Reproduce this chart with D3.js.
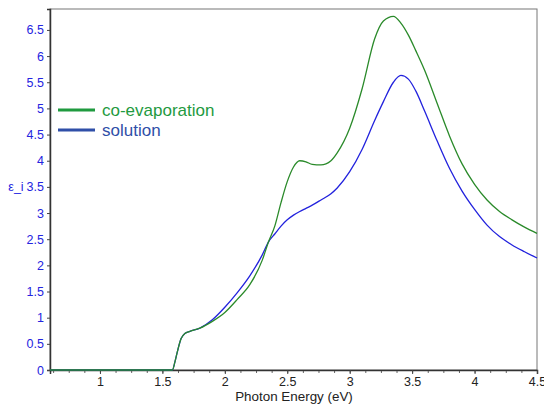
<!DOCTYPE html>
<html>
<head>
<meta charset="utf-8">
<script src="https://cdn.jsdelivr.net/npm/d3@7"></script>
<style>
  body { margin: 0; background: #fff; }
  svg { display: block; font-family: "Liberation Sans", Arial, sans-serif; }
</style>
</head>
<body>
<svg id="chart" width="544" height="408"></svg>
<script>
// photon energy grid (eV)
var energy = [0.6, 1.58, 1.6, 1.62, 1.65, 1.68, 1.72, 1.8, 1.9, 2.0, 2.1, 2.2, 2.3, 2.35, 2.4, 2.45, 2.5, 2.55, 2.6, 2.65, 2.7, 2.77, 2.85, 2.9, 3.0, 3.1, 3.2, 3.27, 3.35, 3.41, 3.47, 3.53, 3.6, 3.7, 3.8, 3.9, 4.0, 4.1, 4.2, 4.3, 4.4, 4.5];

// eps_i of co-evaporated film
var coEvap = [0, 0, 0.15, 0.35, 0.6, 0.70, 0.74, 0.80, 0.93, 1.1, 1.35, 1.63, 2.1, 2.45, 2.75, 3.2, 3.6, 3.88, 4.0, 3.98, 3.93, 3.92, 4.0, 4.15, 4.62, 5.38, 6.33, 6.67, 6.76, 6.63, 6.4, 6.1, 5.73, 5.1, 4.47, 3.94, 3.55, 3.25, 3.03, 2.87, 2.73, 2.61];

// eps_i of solution film
var solution = [0, 0, 0.15, 0.35, 0.6, 0.70, 0.74, 0.80, 0.96, 1.2, 1.48, 1.8, 2.2, 2.45, 2.6, 2.75, 2.87, 2.96, 3.03, 3.09, 3.15, 3.25, 3.37, 3.48, 3.79, 4.22, 4.77, 5.13, 5.5, 5.63, 5.56, 5.33, 4.95, 4.38, 3.85, 3.42, 3.07, 2.77, 2.55, 2.39, 2.26, 2.14];

var xTicks = [1, 1.5, 2, 2.5, 3, 3.5, 4, 4.5];
var yTicks = [0, 0.5, 1, 1.5, 2, 2.5, 3, 3.5, 4, 4.5, 5, 5.5, 6, 6.5];

var seriesNames = ["co-evaporation", "solution"];

var svg = d3.select("#chart");
var plotLeft = 50, plotRight = 537, plotTop = 9, plotBottom = 370;

// scales
var x = d3.scaleLinear().domain([0.6, 4.5]).range([plotLeft, plotRight]);
var y = d3.scaleLinear().domain([0, 6.9]).range([plotBottom, plotTop]);

// frame (top and right in grey)
svg.append("rect")
    .attr("x", plotLeft).attr("y", plotTop)
    .attr("width", plotRight - plotLeft).attr("height", plotBottom - plotTop)
    .attr("fill", "none")
    .attr("stroke", "#777")
    .attr("stroke-width", 1);

// x axis with minor ticks
var xMinor = d3.range(0.625, 4.5001, 0.125);
svg.append("g")
    .attr("transform", "translate(0," + plotBottom + ")")
    .call(d3.axisBottom(x).tickValues(xMinor).tickSize(3).tickFormat(""))
    .call(g => g.select(".domain").remove())
    .selectAll("line").attr("stroke", "#666");

var gx = svg.append("g")
    .attr("transform", "translate(0," + plotBottom + ")")
    .call(d3.axisBottom(x).tickValues(xTicks).tickSize(4).tickPadding(3).tickFormat(d3.format("")));
gx.select(".domain").attr("stroke", "#333").attr("stroke-width", 1.5);
gx.selectAll("line").attr("stroke", "#444");
gx.selectAll("text").attr("font-size", 12.5).attr("fill", "#222")
    .attr("font-family", "Liberation Sans, Arial, sans-serif");

// y axis
var gy = svg.append("g")
    .attr("transform", "translate(" + plotLeft + ",0)")
    .call(d3.axisLeft(y).tickValues(yTicks).tickSize(3).tickPadding(3).tickFormat(d3.format("")));
gy.select(".domain").attr("stroke", "#333").attr("stroke-width", 1.5);
gy.selectAll("line").attr("stroke", "#444");
gy.selectAll("text").attr("font-size", 12.5).attr("fill", "#2424e0")
    .attr("font-family", "Liberation Sans, Arial, sans-serif");

// axis titles
svg.append("text")
    .attr("x", 294).attr("y", 401)
    .attr("text-anchor", "middle")
    .attr("font-size", 13.4)
    .attr("fill", "#222")
    .text("Photon Energy (eV)");

svg.append("text")
    .attr("x", 16).attr("y", 191)
    .attr("text-anchor", "middle")
    .attr("font-size", 12.5)
    .attr("fill", "#2424e0")
    .text("ε_i");

// lines
var line = d3.line()
    .x(function(d, i) { return x(energy[i]); })
    .y(function(d) { return y(d); })
    .curve(d3.curveMonotoneX);

svg.append("path")
    .datum(solution)
    .attr("d", line)
    .attr("fill", "none")
    .attr("stroke", "#2222dd")
    .attr("stroke-width", 1.3);

svg.append("path")
    .datum(coEvap)
    .attr("d", line)
    .attr("fill", "none")
    .attr("stroke", "#2a8a2a")
    .attr("stroke-width", 1.3);

// legend
var legendColors = ["#1f9a3f", "#2f4fa8"];
var legend = svg.append("g").attr("transform", "translate(58,110)");
seriesNames.forEach(function(name, i) {
    var row = legend.append("g").attr("transform", "translate(0," + (i * 20) + ")");
    row.append("line")
        .attr("x1", 0).attr("x2", 37)
        .attr("stroke", legendColors[i])
        .attr("stroke-width", 3);
    row.append("text")
        .attr("x", 44).attr("y", 5.5)
        .attr("font-size", 17)
        .attr("fill", legendColors[i])
        .text(name);
});
</script>
</body>
</html>
